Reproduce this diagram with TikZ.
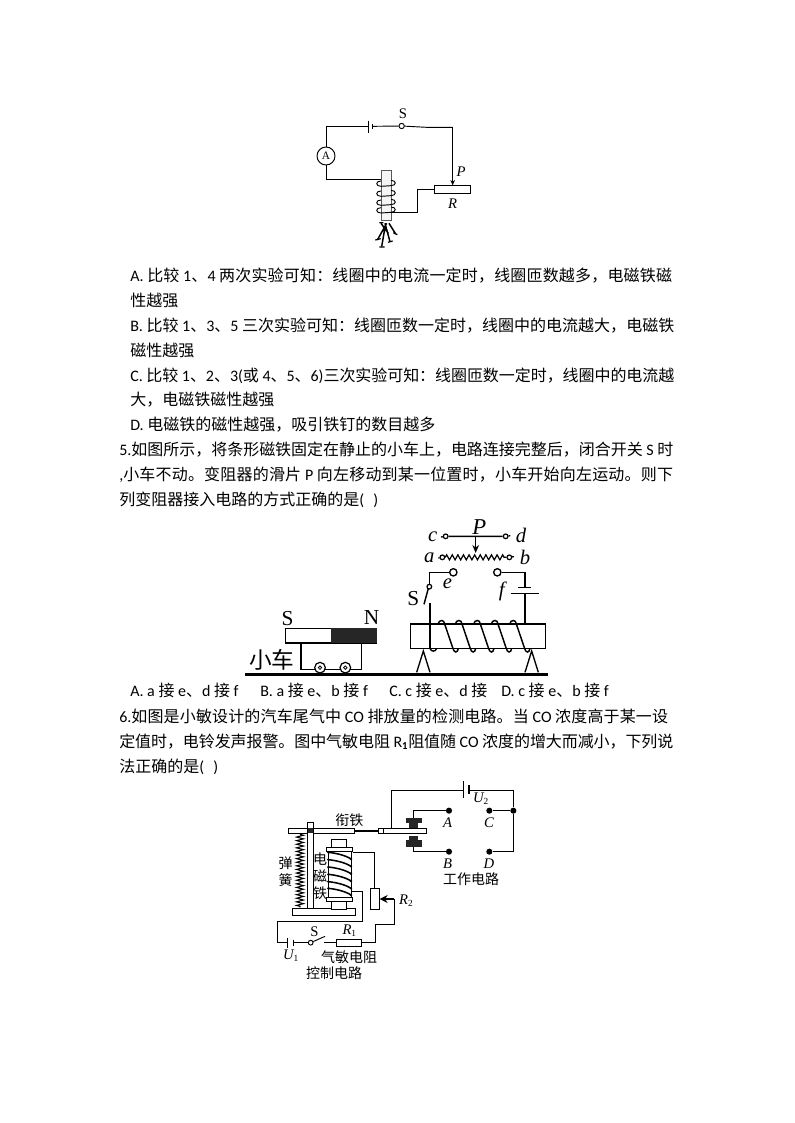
\documentclass[tikz,border=0pt]{standalone}
\usepackage{fontspec}
\usetikzlibrary{arrows.meta,decorations.pathmorphing}
\setmainfont{Carlito}
\newfontfamily\cjk{Noto Sans CJK SC}
\newfontfamily\serifit[ItalicFont=Liberation Serif Italic]{Liberation Serif}
\def\zhloop#1{\ifx#1\relax\else #1\hskip 0pt plus 1fil minus 0.6pt\expandafter\zhloop\fi}
\newcommand\zh[1]{{\cjk\zhloop#1\relax}}
\newcommand\lbl[1]{{\serifit\itshape #1}}
\newcommand\rmn[1]{{\serifit #1}}
\newcommand\subn[1]{\raisebox{-1.5pt}{\fontsize{7pt}{8pt}\selectfont\rmn{#1}}}
\newcommand\jline[2]{\hbox to #1\dimexpr0.75pt\relax{#2}}
\newcommand\txtfont{\fontsize{12pt}{14pt}\selectfont\spaceskip 2.7pt\relax}
\tikzset{
  wire/.style={draw=black,line width=0.7pt},
  wireb/.style={draw=black,line width=1pt},
  txt/.style={anchor=base west,inner sep=0pt,font=\txtfont},
  lab/.style={inner sep=0pt,font=\fontsize{11pt}{12pt}\selectfont},
  labm/.style={inner sep=0pt,font=\fontsize{10.5pt}{12pt}\selectfont},
  labb/.style={inner sep=0pt,font=\fontsize{16pt}{18pt}\selectfont},
  term/.style={circle,draw=black,fill=white,line width=0.7pt,inner sep=0pt},
  dot/.style={circle,fill=black,inner sep=0pt,minimum size=4.6pt},
  sc/.style={shift={#1},x=0.25pt,y=-0.25pt}
}
\begin{document}
\begin{tikzpicture}[x=0.75pt,y=-0.75pt]
\useasboundingbox (0,0) rectangle (794,1123);
\fill[white] (0,0) rectangle (794,1123);
% ---------- text lines
\node[txt] (l1) at (130,281) {\jline{542}{A. \zh{比较} 1\zh{、}4 \zh{两次实验可知：线圈中的电流一定时，线圈匝数越多，电磁铁磁}}};
\node[txt] (l2) at (130,306) {\zh{性越强}};
\node[txt] (l3) at (130,331) {\jline{544}{B. \zh{比较} 1\zh{、}3\zh{、}5 \zh{三次实验可知：线圈匝数一定时，线圈中的电流越大，电磁铁}}};
\node[txt] (l4) at (130,356) {\zh{磁性越强}};
\node[txt] (l5) at (130,381) {\jline{544}{C. \zh{比较} 1\zh{、}2\zh{、}3(\zh{或} 4\zh{、}5\zh{、}6)\zh{三次实验可知：线圈匝数一定时，线圈中的电流越}}};
\node[txt] (l6) at (130,405) {\zh{大，电磁铁磁性越强}};
\node[txt] (l7) at (130,430) {D. \zh{电磁铁的磁性越强，吸引铁钉的数目越多}};
\node[txt] (l8) at (119,455) {\jline{554}{5.\zh{如图所示，将条形磁铁固定在静止的小车上，电路连接完整后，闭合开关} S \zh{时}}};
\node[txt] (l9) at (119,480) {\jline{554}{,\zh{小车不动。变阻器的滑片} P \zh{向左移动到某一位置时，小车开始向左运动。则下}}};
\node[txt] (l10) at (119,505) {\zh{列变阻器接入电路的方式正确的是}(\hspace{7pt})};
\node[txt] (o1) at (130,696) {A. a \zh{接} e\zh{、}d \zh{接} f};
\node[txt] (o2) at (260,696) {B. a \zh{接} e\zh{、}b \zh{接} f};
\node[txt] (o3) at (389,696) {C. c \zh{接} e\zh{、}d \zh{接}};
\node[txt] (o4) at (501,696) {D. c \zh{接} e\zh{、}b \zh{接} f};
\node[txt] (l12) at (119,722) {\jline{549}{6.\zh{如图是小敏设计的汽车尾气中} CO \zh{排放量的检测电路。当} CO \zh{浓度高于某一设}}};
\node[txt] (l13) at (119,747) {\jline{554}{\zh{定值时，电铃发声报警。图中气敏电阻} R$_{\mathbf 1}$\zh{阻值随} CO \zh{浓度的增大而减小，下列说}}};
\node[txt] (l14) at (119,772) {\zh{法正确的是}(\hspace{7pt})};
% ---------- figure 1
\begin{scope}[sc={(300,100)}]
  \fill[gray!8] (243,210) rectangle (273,362);
  \draw[gray!70!black,line width=0.7pt] (243,210) rectangle (273,362);
  \node[term,minimum size=13.5pt] (am) at (78,168) {\fontsize{8.5pt}{9pt}\selectfont\rmn{A}};
  \node[term,minimum size=4pt] (sw) at (305,78) {};
  \draw[wire] (am) |- (205,80);
  \draw[line width=1pt] (205,62)--(205,100);
  \draw[line width=1pt] (218,72)--(218,88);
  \draw[wire] (218,79)--(sw);
  \draw[wire] (sw)--(380,82)--(458,82);
  \draw[wire] (am) |- (243,238);
  \foreach \y in {250,280,307,330}{
    \draw[wire] (273,\y-9) .. controls (290,\y-9) and (290,\y+7) .. (273,\y+7) -- (243,\y+9) .. controls (226,\y+9) and (226,\y-7) .. (243,\y-7);
  }
  \draw[wire] (262,338)--(352,338)--(352,268)--(402,268);
  \draw[wire,fill=white] (402,256) rectangle (512,280);
  \draw[wire,-{Stealth[length=4pt,width=3.5pt]}] (458,82)--(458,256);
  \node[lab] (p1) at (483,215) {\lbl{P}};
  \node[lab] (r1) at (458,310) {\lbl{R}};
  \node[lab] (s1) at (309,42) {\rmn{S}};
  \draw[line width=1.1pt] (260,370)--(232,420) (257,370)--(245,440) (255,370)--(270,425) (243,370)--(265,400) (267,370)--(287,402);
  \draw[line width=.9pt] (238,368)--(250,368) (226,420)--(242,416) (238,441)--(254,441) (264,427)--(278,423) (280,398)--(292,404);
\end{scope}
% ---------- figure 2
\begin{scope}[sc={(240,515)}]
  \draw[line width=2.2pt] (15,478)--(925,478);
  \draw[line width=1pt,fill=white] (137,340) rectangle (410,384);
  \fill[black!85] (272,340) rectangle (410,384);
  \draw[line width=1.1pt] (183,384)--(183,464)--(364,464)--(364,384);
  \foreach \n/\x in {wa/240,wb/316}{
    \node[term,minimum size=8pt,line width=0.9pt] (\n) at (\x,458) {};
    \draw[line width=.6pt] (\x,458) circle (1.3pt);
  }
  \node[labb] (ls) at (143,311) {\rmn{S}};
  \node[labb] (ln) at (395,307) {\rmn{N}};
  \node[inner sep=0pt,font=\fontsize{17pt}{18pt}\selectfont] (car) at (95,435) {\cjk 小车};
  \draw[line width=1.1pt,fill=white] (512,327) rectangle (916,400);
  \draw[line width=1pt] (530,472)--(550,408)--(570,472);
  \draw[line width=1pt] (855,472)--(875,408)--(895,472);
  \foreach \x in {605,657,712,765,820}{
    \draw[line width=1.1pt] (\x-11,327) .. controls (\x-8,313) and (\x+8,313) .. (\x+9,327) -- (\x+33,398) .. controls (\x+37,415) and (\x+48,415) .. (\x+50,400);
  }
  \draw[line width=1.1pt] (570,400) .. controls (573,410) and (586,412) .. (590,400);
  \draw[wireb] (570,265)--(570,402);
  \draw[wireb] (855,327)--(855,235);
  \draw[line width=1.2pt] (812,235)--(896,235);
  \draw[line width=1.2pt] (835,217)--(873,217);
  \node[term,minimum size=5.5pt,line width=1pt] (tf) at (772,172) {};
  \node[term,minimum size=5.5pt,line width=1pt] (te) at (640,172) {};
  \node[term,minimum size=3.5pt,line width=.9pt] (ts) at (568,215) {};
  \draw[wireb] (855,217)|-(tf);
  \draw[wireb] (te)-|(ts);
  \draw[line width=1.1pt] (565,220)--(552,268);
  \node[term,minimum size=3.5pt,line width=.9pt] (tc) at (617,64) {};
  \node[term,minimum size=3.5pt,line width=.9pt] (td) at (797,64) {};
  \node[term,minimum size=3.5pt,line width=.9pt] (ta) at (607,127) {};
  \node[term,minimum size=3.5pt,line width=.9pt] (tb) at (808,127) {};
  \draw[wireb] (603,66)--(tc)--(td)--(811,62);
  \draw[wireb] (595,129)--(ta) (tb)--(822,125);
  \draw[line width=.9pt,decorate,decoration={zigzag,segment length=4.2pt,amplitude=1.9pt}] (ta)--(tb);
  \draw[wireb,-{Stealth[length=6pt,width=5pt]}] (707,64)--(707,114);
  \node[inner sep=0pt,font=\fontsize{17pt}{18pt}\selectfont] (p2) at (718,35) {\lbl{P}};
  \foreach \n/\t/\x/\y in {lc/c/578/64,ld/d/843/62,la/a/568/128,lb/b/855/126,le/e/622/207,lf/f/785/228}{
    \node[inner sep=0pt,font=\fontsize{15.5pt}{16pt}\selectfont] (\n) at (\x,\y) {\lbl{\t}};
  }
  \node[labb] (s2) at (520,250) {\rmn{S}};
\end{scope}
% ---------- figure 3
\begin{scope}[sc={(270,775)}]
  % work circuit
  \draw[wire] (365,160)|-(580,45);
  \draw[line width=1pt] (580,18)--(580,68);
  \draw[line width=1pt] (597,30)--(597,58);
  \node[dot] (dA) at (537,107) {};
  \node[dot] (dB) at (537,230) {};
  \node[dot] (dC) at (658,107) {};
  \node[dot] (dD) at (658,230) {};
  \node[dot] (dJ) at (730,107) {};
  \draw[wire] (597,45)-|(dJ);
  \draw[wire] (dJ)--(dC);
  \draw[wire] (dJ)|-(dD);
  \draw[wire] (dA)-|(430,128);
  \draw[wire] (dB)-|(430,215);
  \fill[black!85] (408,128) rectangle (455,145);
  \fill[black!85] (417,145) rectangle (445,160);
  \fill[black!85] (417,183) rectangle (445,195);
  \fill[black!85] (408,195) rectangle (455,215);
  % armature
  \draw[wire,fill=white] (55,160) rectangle (253,175);
  \draw[line width=1.6pt] (253,168)--(325,168);
  \draw[wire,fill=white] (325,160) rectangle (340,175);
  \draw[wire,fill=white] (340,160) rectangle (470,175);
  % post, base, spring
  \draw[wire,fill=white] (68,400) rectangle (255,422);
  \draw[wire,fill=white] (112,143) rectangle (129,400);
  \fill[black!85] (113,160) rectangle (128,175);
  \draw[line width=.8pt,decorate,decoration={zigzag,segment length=2.7pt,amplitude=2.6pt}] (90,178)--(90,397);
  % magnet
  \draw[wire,fill=white] (185,192) rectangle (230,217);
  \draw[wire,fill=white] (185,378) rectangle (230,402);
  \draw[wire,fill=white] (175,228) rectangle (243,368);
  \draw[wire,fill=white] (170,217) rectangle (248,228);
  \draw[wire,fill=white] (170,368) rectangle (248,378);
  \foreach \y in {232,254,276,298,320,340}{
    \draw[line width=1.15pt] (175,\y) .. controls (195,\y+2) and (225,\y+8) .. (243,\y+20);
    \fill (243,\y+20) circle (1pt);
    \fill (175,\y) circle (1pt);
  }
  % control circuit
  \draw[wire] (248,233)-|(313,340);
  \draw[wire,fill=white] (300,340) rectangle (327,403);
  \draw[wire] (243,348)-|(277,438)-|(22,503)--(50,503);
  \draw[line width=1pt] (52,488)--(52,520);
  \draw[line width=1pt] (70,494)--(70,513);
  \node[term,minimum size=3.6pt] (ds) at (122,503) {};
  \draw[wire] (70,503)--(ds);
  \draw[wire] (ds)--(165,484);
  \draw[wire] (162,503)--(198,503);
  \draw[wire,fill=white] (198,492) rectangle (275,515);
  \draw[wire] (275,503)-|(316,447)-|(372,372);
  \draw[line width=.8pt,-{Stealth[length=6pt,width=6pt]}] (372,372)--(329,372);
  % labels
  \foreach \n/\t/\x/\y in {nA/A/533/143,nB/B/533/265,nC/C/657/143,nD/D/657/265}{
    \node[lab] (\n) at (\x,\y) {\lbl{\t}};
  }
  \node[lab] (nU2) at (632,70) {\lbl{U}\subn{2}};
  \node[lab] (nU1) at (62,542) {\lbl{U}\subn{1}};
  \node[lab] (nR2) at (408,378) {\lbl{R}\subn{2}};
  \node[lab] (nR1) at (238,467) {\lbl{R}\subn{1}};
  \node[lab] (nS) at (133,470) {\rmn{S}};
  \node[labm] (nx) at (238,135) {\cjk 衔铁};
  \node[labm] (nw) at (603,313) {\cjk 工作电路};
  \node[labm] (nq) at (237,548) {\cjk 气敏电阻};
  \node[labm] (nk) at (192,595) {\cjk 控制电路};
  \node[inner sep=0pt,align=center,font=\fontsize{10.5pt}{13pt}\selectfont] (nh) at (47,291) {\cjk 弹\\\cjk 簧};
  \node[inner sep=0pt,align=center,font=\fontsize{10.5pt}{12.5pt}\selectfont] (nd) at (150,304) {\cjk 电\\\cjk 磁\\\cjk 铁};
\end{scope}
\end{tikzpicture}
\end{document}
